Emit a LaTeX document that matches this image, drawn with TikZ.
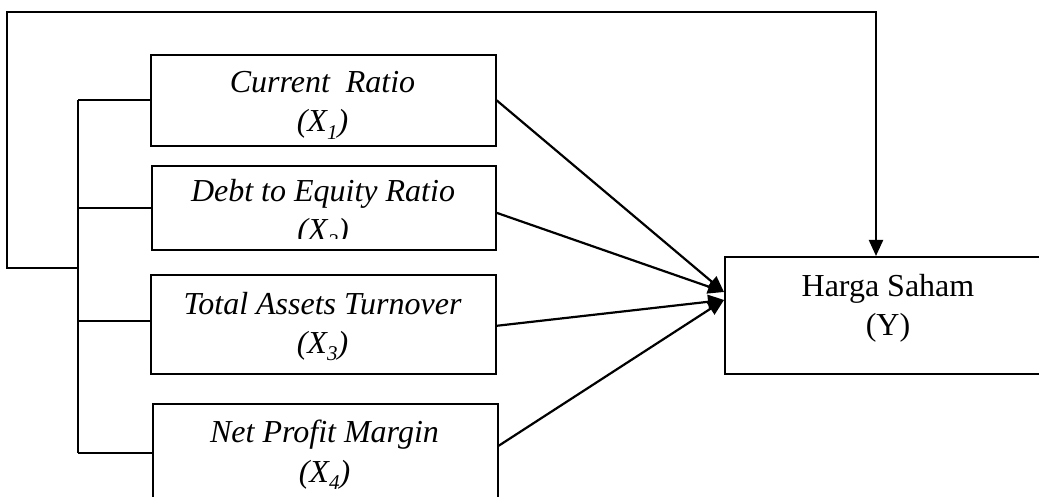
\documentclass[tikz,border=0pt]{standalone}
\usepackage{fontspec}
\setmainfont{Liberation Serif}
\usetikzlibrary{arrows.meta,calc}
\newcommand{\mysub}[1]{\raisebox{-0.22em}{\fontsize{21}{21}\selectfont #1}}
\begin{document}
\begin{tikzpicture}[x=1pt,y=-1pt,
  box/.style={draw,line width=1.6pt,rectangle,inner sep=0pt,anchor=north west},
  lbl/.style={anchor=base,font=\fontsize{32}{39}\selectfont\itshape,inner sep=0pt},
  lblup/.style={anchor=base,font=\fontsize{32}{39}\selectfont,inner sep=0pt},
  wire/.style={line width=1.8pt},
  arr/.style={line width=2.2pt,line join=miter,-{Triangle[length=16pt,width=14pt]}}]
\useasboundingbox (0,0) rectangle (1039,497);
\clip (0,0) rectangle (1039,497);
% boxes
\node[box,minimum width=345pt,minimum height=91pt] (b1) at (150,54) {};
\node[box,minimum width=344pt,minimum height=84pt] (b2) at (151,165) {};
\node[box,minimum width=345pt,minimum height=99pt] (b3) at (150,274) {};
\node[box,minimum width=345pt,minimum height=98pt] (b4) at (152,403) {};
\node[box,minimum width=336pt,minimum height=117pt] (yb) at (724,256) {};
% texts
\node[lbl] (t1a) at (322.5,93) {Current~~Ratio};
\node[lbl] (t1b) at (322.5,132) {(X\mysub{1})};
\begin{scope}
  \clip (151,165) rectangle (495,239);
  \node[lbl] (t2a) at (323,202) {Debt to Equity Ratio};
  \node[lbl] (t2b) at (323,241) {(X\mysub{2})};
\end{scope}
\node[lbl] (t3a) at (322.5,314) {Total Assets Turnover};
\node[lbl] (t3b) at (322.5,353) {(X\mysub{3})};
\node[lbl] (t4a) at (324.5,442) {Net Profit Margin};
\node[lbl] (t4b) at (324.5,482) {(X\mysub{4})};
\node[lblup] (tya) at (888,296) {Harga Saham};
\node[lblup] (tyb) at (888,335) {(Y)};
% bus
\coordinate (bx) at (78,0);
\coordinate (lp) at (78,268);
\coordinate (lpl) at (7,268);
\coordinate (lpt) at (7,12);
\coordinate (yt) at (876,12);
\draw[wire] (b1.west -| bx) -- (b4.west -| bx);
\draw[wire] (b1.west -| bx) -- (b1.west);
\draw[wire] (b2.west -| bx) -- (b2.west);
\draw[wire] ($(b3.west -| bx)+(0,-3)$) -- ($(b3.west)+(0,-3)$);
\draw[wire] (b4.west -| bx) -- (b4.west);
\draw[arr] (lp) -- (lpl) -- (lpt) -- (yt) -- (yt |- yb.north);
% arrows to Y
\coordinate (tipA) at (724,292);
\coordinate (tipB) at (724,300);
\draw[arr] (b1.east) -- (tipA);
\draw[arr] ($(b2.east)+(0,5)$) -- (tipA);
\draw[arr] ($(b3.east)+(0,1.5)$) -- (tipB);
\draw[arr] ($(b4.east)+(0,-7)$) -- (tipB);
\end{tikzpicture}
\end{document}
